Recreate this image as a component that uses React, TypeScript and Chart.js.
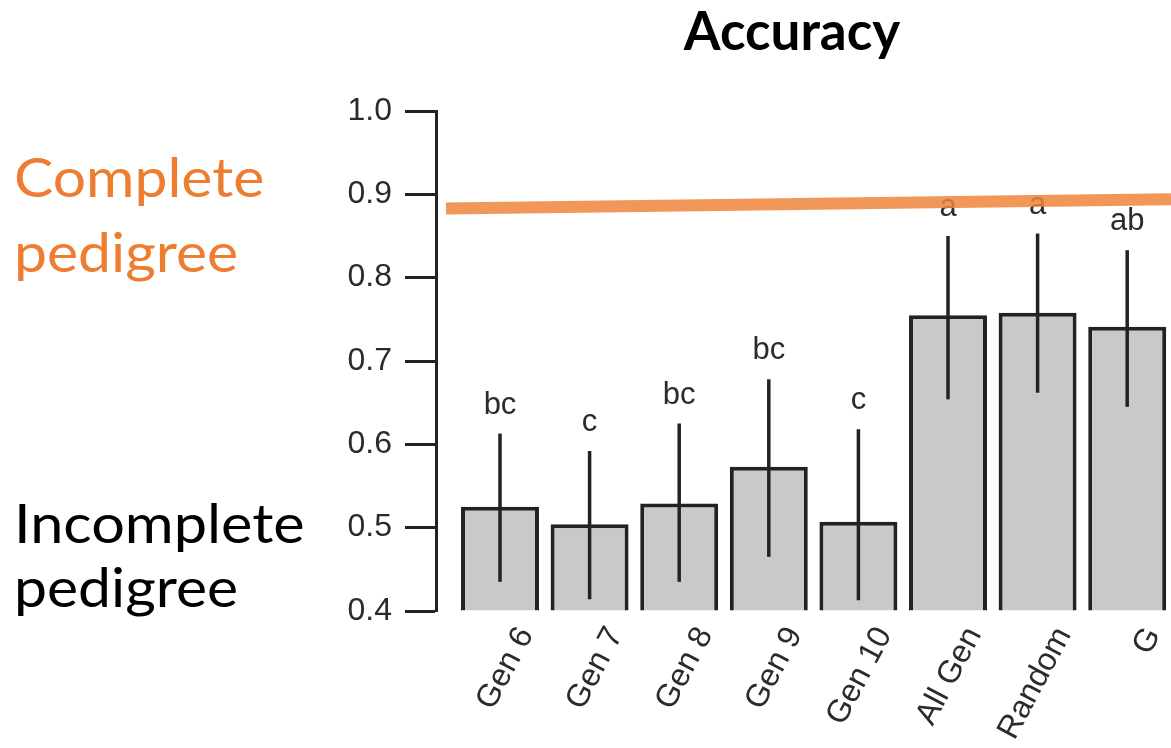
import React, { useEffect, useRef } from "react";
import { Chart, registerables } from "chart.js";

Chart.register(...registerables);

const categories = ["Gen 6", "Gen 7", "Gen 8", "Gen 9", "Gen 10", "All Gen", "Random", "G"];
const meanAccuracy = [0.525, 0.504, 0.529, 0.573, 0.507, 0.755, 0.758, 0.741];
const errorHigh = [0.613, 0.592, 0.625, 0.678, 0.618, 0.85, 0.853, 0.833];
const errorLow = [0.435, 0.414, 0.435, 0.465, 0.413, 0.654, 0.662, 0.645];
const groupLetters = ["bc", "c", "bc", "bc", "c", "a", "a", "ab"];
const yTicks = [0.4, 0.5, 0.6, 0.7, 0.8, 0.9, 1.0];
const completeLine = [
  { x: 0, y: 0.883 },
  { x: 1, y: 0.894 },
];

const AXIS_DARK = "#222222";
const TEXT_DARK = "#2b2b2b";
const ARIAL = "'Liberation Sans', Arial, sans-serif";
const CALIBRI = "Lato, 'Open Sans', sans-serif";

const shiftPlugin = {
  id: "shiftScales",
  afterLayout(chart: any) {
    const yr = chart.scales.y.right;
    const x = chart.scales.x;
    x.left = yr + 19.2;
    x.right = x.left + 89.6 * categories.length;
    x.width = x.right - x.left;
    x.configure();
    const x2 = chart.scales.x2;
    x2.left = yr + 10;
    x2.right = chart.width;
    x2.width = x2.right - x2.left;
    x2.configure();
  },
};

function drawScaledText(ctx: any, text: string, x: number, y: number, sx: number) {
  ctx.save();
  ctx.translate(x, y);
  ctx.scale(sx, 1);
  ctx.fillText(text, 0, 0);
  ctx.restore();
}

const decorPlugin = {
  id: "decor",
  afterDatasetDraw(chart: any, args: any) {
    if (args.index !== 1) return;
    const ctx = chart.ctx;
    const y = chart.scales.y;
    const meta = chart.getDatasetMeta(1);
    ctx.save();
    ctx.strokeStyle = AXIS_DARK;
    ctx.lineWidth = 3.5;
    ctx.lineCap = "butt";
    meta.data.forEach((bar: any, i: number) => {
      const yt = y.getPixelForValue(errorHigh[i]);
      const yb = y.getPixelForValue(errorLow[i]);
      ctx.beginPath();
      ctx.moveTo(bar.x, yt);
      ctx.lineTo(bar.x, yb);
      ctx.stroke();
      ctx.fillStyle = TEXT_DARK;
      ctx.font = `31px ${ARIAL}`;
      ctx.textAlign = "center";
      ctx.textBaseline = "alphabetic";
      ctx.fillText(groupLetters[i], bar.x, yt - 20);
    });
    ctx.restore();
  },
  afterDraw(chart: any) {
    const ctx = chart.ctx;
    ctx.save();
    ctx.textBaseline = "alphabetic";
    ctx.fillStyle = "#000000";
    ctx.font = `bold 53px ${CALIBRI}`;
    ctx.textAlign = "center";
    drawScaledText(ctx, "Accuracy", 792, 50, 1.0);
    ctx.textAlign = "left";
    ctx.font = `55px ${CALIBRI}`;
    ctx.fillStyle = "#ED7D31";
    drawScaledText(ctx, "Complete", 14, 197, 1.07);
    drawScaledText(ctx, "pedigree", 14, 272, 1.07);
    ctx.fillStyle = "#000000";
    drawScaledText(ctx, "Incomplete", 14, 543, 1.08);
    drawScaledText(ctx, "pedigree", 14, 607, 1.07);
    ctx.restore();
  },
};

export default function App() {
  const ref = useRef<HTMLCanvasElement>(null);
  useEffect(() => {
    if (!ref.current) return;
    const chart = new Chart(ref.current, {
      type: "bar",
      data: {
        labels: categories,
        datasets: [
          {
            type: "line",
            label: "Complete pedigree",
            data: completeLine as any,
            xAxisID: "x2",
            borderColor: "rgba(238,133,61,0.85)",
            borderWidth: 12,
            pointRadius: 0,
            borderCapStyle: "butt",
            clip: false as any,
            order: 0,
          } as any,
          {
            type: "bar",
            label: "Accuracy",
            data: meanAccuracy,
            xAxisID: "x",
            base: 0.4,
            grouped: false,
            backgroundColor: "#c8c9cb",
            borderColor: AXIS_DARK,
            borderWidth: 4,
            barPercentage: 0.87,
            categoryPercentage: 1,
            clip: false as any,
            order: 1,
          } as any,
        ],
      },
      options: {
        responsive: false,
        animation: false,
        layout: { padding: { top: 111, left: 0, right: 0, bottom: 0 } },
        plugins: {
          legend: { display: false },
          tooltip: { enabled: false },
          title: { display: false },
        },
        scales: {
          x: {
            type: "category",
            offset: true,
            grid: { display: false },
            border: { display: false },
            ticks: {
              autoSkip: false,
              minRotation: 62,
              maxRotation: 62,
              padding: 2,
              labelOffset: 26,
              color: TEXT_DARK,
              font: { family: ARIAL, size: 32 },
            },
            afterFit: (s: any) => {
              s.height = 137;
            },
          },
          x2: {
            type: "linear",
            display: false,
            offset: false,
            min: 0,
            max: 1,
          },
          y: {
            min: 0.4,
            max: 1.0,
            afterBuildTicks: (s: any) => {
              s.ticks = yTicks.map((v) => ({ value: v }));
            },
            grid: {
              display: true,
              drawOnChartArea: false,
              drawTicks: true,
              tickLength: 31,
              tickWidth: 3,
              tickColor: AXIS_DARK,
            },
            border: { display: true, width: 3, color: AXIS_DARK },
            ticks: {
              padding: 13,
              color: TEXT_DARK,
              font: { family: ARIAL, size: 32 },
              callback: (v: any) => Number(v).toFixed(1),
            },
            afterFit: (s: any) => {
              s.width = 436;
            },
          },
        },
      } as any,
      plugins: [shiftPlugin, decorPlugin],
    });
    return () => chart.destroy();
  }, []);
  return (
    <div style={{ position: "absolute", left: 0, top: 0, width: 1171, height: 748, background: "#fff" }}>
      <canvas ref={ref} width={1171} height={748} />
    </div>
  );
}
